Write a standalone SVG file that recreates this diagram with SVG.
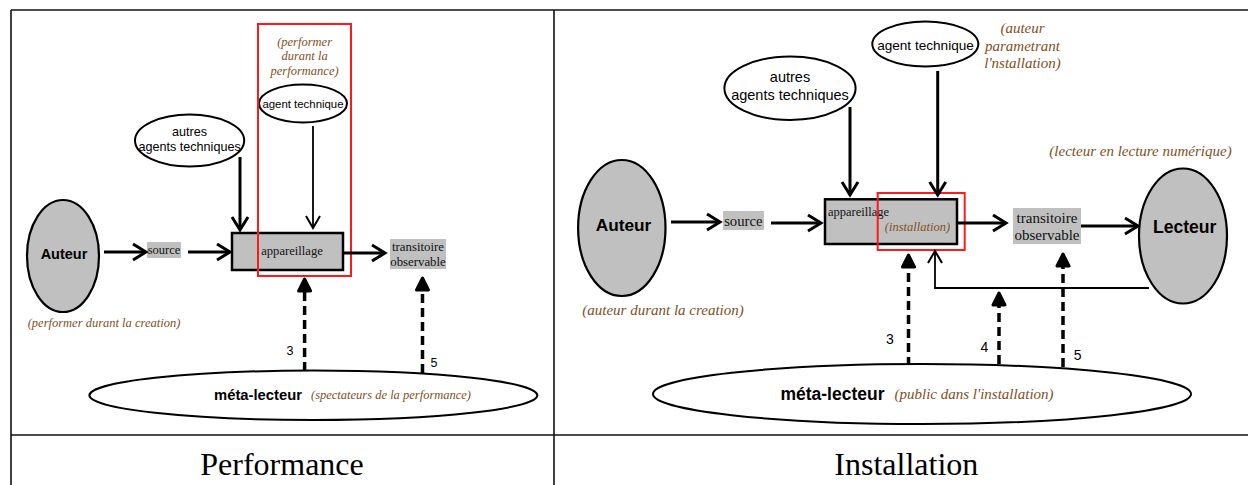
<svg xmlns="http://www.w3.org/2000/svg" width="1248" height="485" viewBox="0 0 1248 485">
  <defs>
    <style>
      .grid { stroke: #111; stroke-width: 1.6; fill: none; }
      .oval { fill: #fff; stroke: #000; stroke-width: 2; }
      .actor { fill: #c0c0c0; stroke: #000; stroke-width: 2.2; }
      .box { fill: #c0c0c0; stroke: #000; stroke-width: 2.5; }
      .chip { fill: #c0c0c0; stroke: none; }
      .frame { fill: none; stroke: #ff1a1a; stroke-width: 2; }
      .flow { fill: none; stroke: #000; stroke-width: 3; marker-end: url(#vee); }
      .thin { fill: none; stroke: #000; stroke-width: 1.8; marker-end: url(#veeThin); }
      .dash { fill: none; stroke: #000; stroke-width: 3.5; stroke-dasharray: 9 5; marker-end: url(#blob); }
      .sans { font-family: "Liberation Sans", Arial, sans-serif; fill: #000; }
      .bold { font-family: "Liberation Sans", Arial, sans-serif; font-weight: bold; fill: #000; }
      .serif { font-family: "Liberation Serif", "Times New Roman", serif; fill: #111; }
      .note { font-family: "Liberation Serif", "Times New Roman", serif; font-style: italic; fill: #80501e; }
      .title { font-family: "Liberation Serif", "Times New Roman", serif; font-size: 32px; fill: #000; }
    </style>
    <!-- open V arrowhead for solid flows -->
    <marker id="vee" viewBox="0 0 16 18" refX="14" refY="9" markerWidth="16" markerHeight="18" orient="auto" markerUnits="userSpaceOnUse" overflow="visible">
      <path d="M1,1 L14,9 L1,17" fill="none" stroke="#000" stroke-width="3"/>
    </marker>
    <marker id="veeThin" viewBox="0 0 14 16" refX="13" refY="8" markerWidth="14" markerHeight="16" orient="auto" markerUnits="userSpaceOnUse" overflow="visible">
      <path d="M1,1 L13,8 L1,15" fill="none" stroke="#000" stroke-width="2"/>
    </marker>
    <!-- rounded filled head for the dashed reading links -->
    <marker id="blob" viewBox="0 0 16 16" refX="1" refY="8" markerWidth="16" markerHeight="16" orient="auto" markerUnits="userSpaceOnUse" overflow="visible">
      <path d="M2,2 L14,8 L2,14 Z" fill="#000" stroke="#000" stroke-width="3" stroke-linejoin="round" stroke-dasharray="none"/>
    </marker>
  </defs>

  <rect width="1248" height="485" fill="#fff"/>

  <!-- table rules -->
  <g id="table">
    <line class="grid" x1="11" y1="10" x2="1248" y2="10"/>
    <line class="grid" x1="11" y1="10" x2="11" y2="485"/>
    <line class="grid" x1="554" y1="10" x2="554" y2="485"/>
    <line class="grid" x1="11" y1="435" x2="1248" y2="435"/>
  </g>

  <!-- ===== Performance ===== -->
  <g id="perf-auteur">
    <ellipse class="actor" cx="63" cy="256" rx="36" ry="56"/>
    <text class="bold" x="64" y="258.5" font-size="14.5" text-anchor="middle">Auteur</text>
    <text class="note" x="104" y="327" font-size="12.5" text-anchor="middle">(performer durant la creation)</text>
  </g>
  <g id="perf-source">
    <rect class="chip" x="147" y="242" width="34" height="16"/>
    <text class="serif" x="164" y="254" font-size="12.5" text-anchor="middle">source</text>
  </g>
  <g id="perf-appareillage">
    <rect class="box" x="232" y="233" width="111" height="37"/>
    <text class="serif" x="292" y="255" font-size="12.6" text-anchor="middle">appareillage</text>
  </g>
  <g id="perf-transitoire">
    <rect class="chip" x="390" y="239" width="56" height="30"/>
    <text class="serif" x="418" y="251" font-size="12.8" text-anchor="middle">transitoire</text>
    <text class="serif" x="418" y="265.5" font-size="12.8" text-anchor="middle">observable</text>
  </g>
  <g id="perf-agent">
    <ellipse class="oval" cx="303" cy="103.5" rx="44" ry="19"/>
    <text class="sans" x="303" y="107.5" font-size="11.4" text-anchor="middle">agent technique</text>
  </g>
  <g id="perf-autres">
    <ellipse class="oval" cx="189.6" cy="140.5" rx="54.6" ry="26"/>
    <text class="sans" x="189.6" y="136" font-size="12.6" text-anchor="middle">autres</text>
    <text class="sans" x="189.6" y="150.5" font-size="12.6" text-anchor="middle">agents techniques</text>
  </g>
  <g id="perf-performer">
    <rect class="frame" x="258" y="24" width="93" height="252"/>
    <text class="note" x="304.6" y="45.5" font-size="12.5" text-anchor="middle">(performer</text>
    <text class="note" x="304.6" y="60" font-size="12.5" text-anchor="middle">durant la</text>
    <text class="note" x="304.6" y="74.5" font-size="12.5" text-anchor="middle">performance)</text>
  </g>
  <g id="perf-connectors">
    <line class="flow" x1="104" y1="252" x2="146" y2="252"/>
    <line class="flow" x1="188" y1="252" x2="230" y2="252"/>
    <line class="flow" x1="343" y1="253" x2="385" y2="253"/>
    <line class="flow" x1="240" y1="157" x2="240" y2="230"/>
    <line class="thin" x1="313" y1="126" x2="313" y2="228"/>
    <line class="dash" x1="304.6" y1="371" x2="304.6" y2="292"/>
    <line class="dash" x1="422.5" y1="373" x2="422.5" y2="291"/>
    <text class="sans" x="290" y="355" font-size="12.5" text-anchor="middle">3</text>
    <text class="sans" x="434" y="367" font-size="12.5" text-anchor="middle">5</text>
  </g>
  <g id="perf-meta">
    <ellipse class="oval" cx="313.4" cy="395.3" rx="224" ry="24.7" stroke-width="3"/>
    <text class="bold" x="214" y="400" font-size="14.8">méta-lecteur</text>
    <text class="note" x="311" y="399" font-size="12.5">(spectateurs de la performance)</text>
  </g>
  <text class="title" x="282" y="475" text-anchor="middle">Performance</text>

  <!-- ===== Installation ===== -->
  <g id="inst-auteur">
    <ellipse class="actor" cx="621.8" cy="228" rx="43.7" ry="68"/>
    <text class="bold" x="623.5" y="231" font-size="17.3" text-anchor="middle">Auteur</text>
    <text class="note" x="663" y="314.5" font-size="15" text-anchor="middle">(auteur durant la creation)</text>
  </g>
  <g id="inst-source">
    <rect class="chip" x="723" y="211" width="41" height="19"/>
    <text class="serif" x="743.3" y="226" font-size="14.7" text-anchor="middle">source</text>
  </g>
  <g id="inst-appareillage">
    <rect class="box" x="825" y="199.3" width="132" height="44.7" stroke-width="3"/>
    <text class="serif" x="828" y="216" font-size="12.5">appareillage</text>
  </g>
  <g id="inst-installation">
    <rect class="frame" x="877.7" y="193" width="87" height="57" stroke-width="2.5"/>
    <text class="note" x="917.5" y="231" font-size="12.5" text-anchor="middle">(installation)</text>
  </g>
  <g id="inst-transitoire">
    <rect class="chip" x="1013" y="208" width="68" height="36"/>
    <text class="serif" x="1047" y="222.5" font-size="15" text-anchor="middle">transitoire</text>
    <text class="serif" x="1047" y="239.5" font-size="15" text-anchor="middle">observable</text>
  </g>
  <g id="inst-lecteur">
    <ellipse class="actor" cx="1183" cy="236" rx="44" ry="67.5"/>
    <text class="bold" x="1184.7" y="232.5" font-size="17.6" text-anchor="middle">Lecteur</text>
    <text class="note" x="1140.5" y="156" font-size="15" text-anchor="middle">(lecteur en lecture numérique)</text>
  </g>
  <g id="inst-agent">
    <ellipse class="oval" cx="925.3" cy="44" rx="53" ry="22.5"/>
    <text class="sans" x="925.5" y="50.3" font-size="13.6" text-anchor="middle">agent technique</text>
    <text class="note" x="1022.5" y="33" font-size="15" text-anchor="middle">(auteur</text>
    <text class="note" x="1022.5" y="50.5" font-size="15" text-anchor="middle">parametrant</text>
    <text class="note" x="1022.5" y="67.5" font-size="15" text-anchor="middle">l'nstallation)</text>
  </g>
  <g id="inst-autres">
    <ellipse class="oval" cx="790" cy="88.3" rx="65.6" ry="31.7"/>
    <text class="sans" x="790" y="82" font-size="14.5" text-anchor="middle">autres</text>
    <text class="sans" x="790" y="99.5" font-size="14.5" text-anchor="middle">agents techniques</text>
  </g>
  <g id="inst-connectors">
    <line class="flow" x1="671" y1="222" x2="720" y2="222"/>
    <line class="flow" x1="771" y1="223" x2="821" y2="223"/>
    <line class="flow" x1="957" y1="223" x2="1006" y2="223"/>
    <line class="flow" x1="1081" y1="226" x2="1138" y2="226"/>
    <line class="flow" x1="850" y1="107" x2="850" y2="195"/>
    <line class="flow" x1="937.7" y1="71" x2="937.7" y2="195"/>
    <path class="thin" d="M1149,288 H935 V251"/>
    <line class="dash" x1="908.5" y1="366" x2="908.5" y2="268"/>
    <line class="dash" x1="999" y1="364" x2="999" y2="306"/>
    <line class="dash" x1="1063" y1="367" x2="1063" y2="267"/>
    <text class="sans" x="890" y="343.5" font-size="14" text-anchor="middle">3</text>
    <text class="sans" x="984.5" y="352" font-size="14" text-anchor="middle">4</text>
    <text class="sans" x="1077.7" y="360" font-size="14" text-anchor="middle">5</text>
  </g>
  <g id="inst-meta">
    <ellipse class="oval" cx="922" cy="394" rx="269" ry="30" stroke-width="4"/>
    <text class="bold" x="780.4" y="400" font-size="17.5">méta-lecteur</text>
    <text class="note" x="894.5" y="399" font-size="15">(public dans l'installation)</text>
  </g>
  <text class="title" x="906.3" y="475" text-anchor="middle">Installation</text>
</svg>
